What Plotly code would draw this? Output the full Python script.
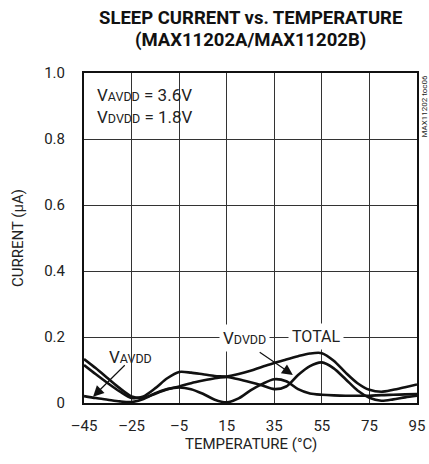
import plotly.graph_objects as go

temps = [-45, -40, -35, -30, -25, -20, -15, -10, -5, 0, 5, 10, 15, 20, 25, 30,
         35, 40, 45, 50, 55, 60, 65, 70, 75, 80, 85, 90, 95]
total = [0.133, 0.105, 0.075, 0.045, 0.020, 0.016, 0.028, 0.042, 0.050, 0.060,
         0.068, 0.075, 0.080, 0.088, 0.098, 0.110, 0.121, 0.132, 0.142, 0.150,
         0.151, 0.128, 0.092, 0.060, 0.040, 0.034, 0.040, 0.048, 0.056]
vdvdd = [0.115, 0.087, 0.060, 0.035, 0.015, 0.020, 0.045, 0.075, 0.094, 0.092,
         0.087, 0.082, 0.079, 0.072, 0.063, 0.053, 0.042, 0.050, 0.085, 0.112,
         0.123, 0.105, 0.072, 0.038, 0.016, 0.007, 0.011, 0.017, 0.022]
vavdd = [0.021, 0.015, 0.010, 0.005, 0.003, 0.012, 0.030, 0.042, 0.047, 0.042,
         0.028, 0.010, 0.002, 0.014, 0.038, 0.058, 0.072, 0.066, 0.042, 0.029,
         0.025, 0.023, 0.022, 0.022, 0.022, 0.024, 0.025, 0.026, 0.027]

x_ticks = [-45, -25, -5, 15, 35, 55, 75, 95]
y_ticks = [0, 0.2, 0.4, 0.6, 0.8, 1.0]
y_labels = ["0", "0.2", "0.4", "0.6", "0.8", "1.0"]

FONT = "Roboto, Liberation Sans, sans-serif"

fig = go.Figure()
for name, ys in [("TOTAL", total), ("VDVDD", vdvdd), ("VAVDD", vavdd)]:
    fig.add_trace(go.Scatter(x=temps, y=ys, mode="lines", name=name,
                             line=dict(color="#111", width=2.6, shape="spline", smoothing=0.8),
                             showlegend=False, hoverinfo="skip"))

fig.update_layout(
    width=429, height=464,
    margin=dict(l=84, r=12, t=73, b=61),
    paper_bgcolor="white", plot_bgcolor="white",
    font=dict(family=FONT, size=15, color="#222"),
)
fig.update_xaxes(range=[-45, 95], tickvals=x_ticks, ticktext=[str(v).replace("-", "–") for v in x_ticks],
                 showgrid=True, gridcolor="#333", gridwidth=1,
                 showline=True, linecolor="#111", linewidth=2, mirror=True,
                 ticks="", ticklabelstandoff=8, zeroline=False, automargin=False,
                 tickfont=dict(family=FONT, size=15, color="#222"))
fig.update_yaxes(range=[0, 1.0], tickvals=y_ticks, ticktext=y_labels,
                 showgrid=True, gridcolor="#333", gridwidth=1,
                 showline=True, linecolor="#111", linewidth=2, mirror=True,
                 ticks="", ticklabelstandoff=14, zeroline=False, automargin=False,
                 tickfont=dict(family=FONT, size=15, color="#222"))

sub = lambda s: "<span style='font-size:12.5px'>" + s + "</span>"
ann = [
    dict(text="<b>SLEEP CURRENT vs. TEMPERATURE</b>", xref="paper", yref="paper", x=0.5, y=1,
         yanchor="middle", yshift=55, showarrow=False, font=dict(family=FONT, size=18.5, color="#111")),
    dict(text="<b>(MAX11202A/MAX11202B)</b>", xref="paper", yref="paper", x=0.5, y=1,
         yanchor="middle", yshift=33, showarrow=False, font=dict(family=FONT, size=18.5, color="#111")),
    dict(text="TEMPERATURE (°C)", xref="paper", yref="paper", x=0.5, y=0, yanchor="middle",
         yshift=-41, showarrow=False, font=dict(family=FONT, size=15, color="#222")),
    dict(text="CURRENT (µA)", xref="paper", yref="paper", x=0, y=0.5, xanchor="center",
         yanchor="middle", xshift=-66, textangle=-90, showarrow=False,
         font=dict(family=FONT, size=15, color="#222")),
    dict(text="MAX11202 toc06", xref="paper", yref="paper", x=1, y=1, xanchor="center",
         yanchor="top", xshift=7, yshift=0, textangle=-90, showarrow=False,
         font=dict(family=FONT, size=8, color="#222")),
    dict(text="V" + sub("AVDD") + " = 3.6V", xref="paper", yref="paper",
         x=0, y=1, xanchor="left", yanchor="middle", xshift=11, yshift=-22, align="left",
         showarrow=False, font=dict(family=FONT, size=17, color="#222")),
    dict(text="V" + sub("DVDD") + " = 1.8V", xref="paper", yref="paper",
         x=0, y=1, xanchor="left", yanchor="middle", xshift=11, yshift=-44, align="left",
         showarrow=False, font=dict(family=FONT, size=17, color="#222")),
    dict(text="V" + sub("DVDD"), x=22.3, y=0.2, yshift=-1, showarrow=False, bgcolor="white", borderpad=3,
         font=dict(family=FONT, size=17, color="#222")),
    dict(text="TOTAL", x=52.4, y=0.2, yshift=1, showarrow=False, bgcolor="white", borderpad=3,
         font=dict(family=FONT, size=16, color="#222")),
    dict(text="V" + sub("AVDD"), x=-25.6, y=0.138, showarrow=False,
         font=dict(family=FONT, size=17, color="#222")),
    dict(text=" ", x=-41.2, y=0.019, ax=-26.4, ay=0.125, axref="x", ayref="y",
         showarrow=True, arrowhead=2, arrowsize=1.8, arrowwidth=1.2, arrowcolor="#111"),
    dict(text=" ", x=42.8, y=0.085, ax=27.4, ay=0.161, axref="x", ayref="y",
         showarrow=True, arrowhead=2, arrowsize=1.8, arrowwidth=1.2, arrowcolor="#111"),
]
fig.update_layout(annotations=ann)
fig.write_html("out.html", config={"displayModeBar": False},
               post_script="document.body.style.margin='0';")
